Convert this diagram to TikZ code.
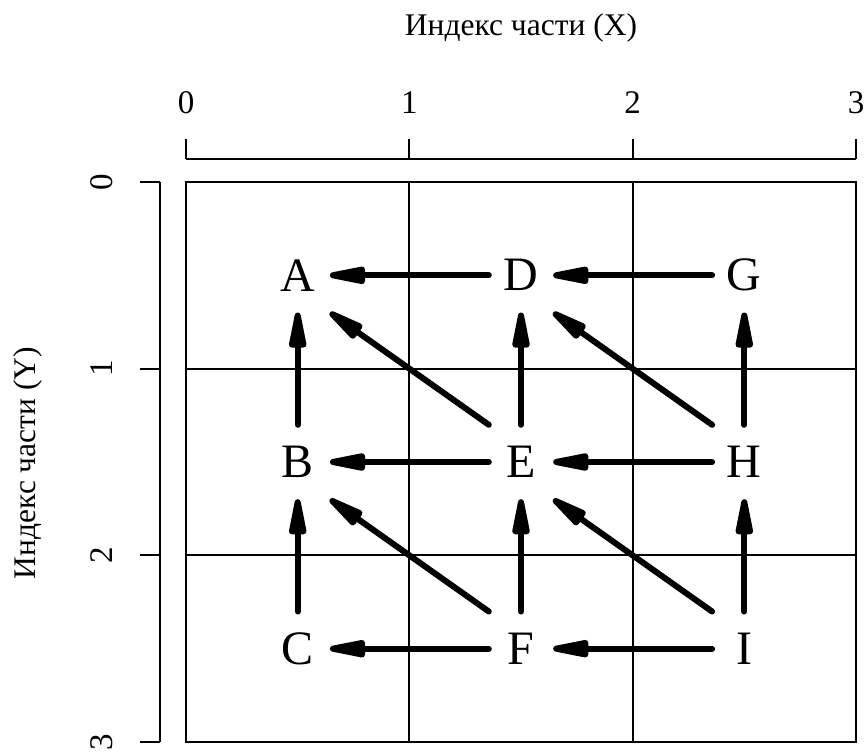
\documentclass[tikz,border=0pt]{standalone}
\usepackage{fontspec}
\setmainfont{Liberation Serif}
\usetikzlibrary{arrows.meta}

\begin{document}
\begin{tikzpicture}[
    x=1pt, y=-1pt,
    part/.style={minimum width=64pt, minimum height=74pt, inner sep=0pt,
                 font=\fontsize{48}{48}\selectfont},
    arr/.style={-{Triangle[length=50pt, width=17pt, round]}, line width=6pt, line cap=round},
    rule/.style={line width=2pt},
    ticklabel/.style={font=\fontsize{33}{33}\selectfont},
    axtitle/.style={font=\fontsize{31.5}{31.5}\selectfont}
]
    \useasboundingbox (0,0) rectangle (866,754);

    % frame and grid
    \draw[rule] (186,182) rectangle (856,742);
    \foreach \i in {1,2} {
        \draw[rule] ({186+223.33*\i},182) -- ({186+223.33*\i},742);
        \draw[rule] (186,{182+186.67*\i}) -- (856,{182+186.67*\i});
    }

    % axes
    \draw[rule] (186,159) -- (856,159);
    \draw[rule] (160,182) -- (160,742);
    \foreach \i in {0,...,3} {
        \draw[rule] ({186+223.33*\i},139) -- ({186+223.33*\i},159);
        \node[ticklabel] (xt\i) at ({186+223.33*\i},103) {\i};
        \draw[rule] (140,{182+186.67*\i}) -- (160,{182+186.67*\i});
        \node[ticklabel, rotate=90] (yt\i) at (102,{182+186.67*\i}) {\i};
    }
    \node[axtitle] (xtitle) at (521,28) {Индекс части (X)};
    \node[axtitle, rotate=90] (ytitle) at (28,463) {Индекс части (Y)};

    % parts
    \node[part] (A) at (297.7,275.3) {A};
    \node[part] (B) at (297.7,462)   {B};
    \node[part] (C) at (297.7,648.7) {C};
    \node[part] (D) at (521,275.3)   {D};
    \node[part] (E) at (521,462)     {E};
    \node[part] (F) at (521,648.7)   {F};
    \node[part] (G) at (744.3,275.3) {G};
    \node[part] (H) at (744.3,462)   {H};
    \node[part] (I) at (744.3,648.7) {I};

    % dependencies
    \draw[arr] (D.west) -- (A.east);
    \draw[arr] (G.west) -- (D.east);
    \draw[arr] (E.west) -- (B.east);
    \draw[arr] (H.west) -- (E.east);
    \draw[arr] (F.west) -- (C.east);
    \draw[arr] (I.west) -- (F.east);

    \draw[arr] (B.north) -- (A.south);
    \draw[arr] (C.north) -- (B.south);
    \draw[arr] (E.north) -- (D.south);
    \draw[arr] (F.north) -- (E.south);
    \draw[arr] (H.north) -- (G.south);
    \draw[arr] (I.north) -- (H.south);

    \draw[arr] (E.north west) -- (A.south east);
    \draw[arr] (H.north west) -- (D.south east);
    \draw[arr] (F.north west) -- (B.south east);
    \draw[arr] (I.north west) -- (E.south east);
\end{tikzpicture}
\end{document}
